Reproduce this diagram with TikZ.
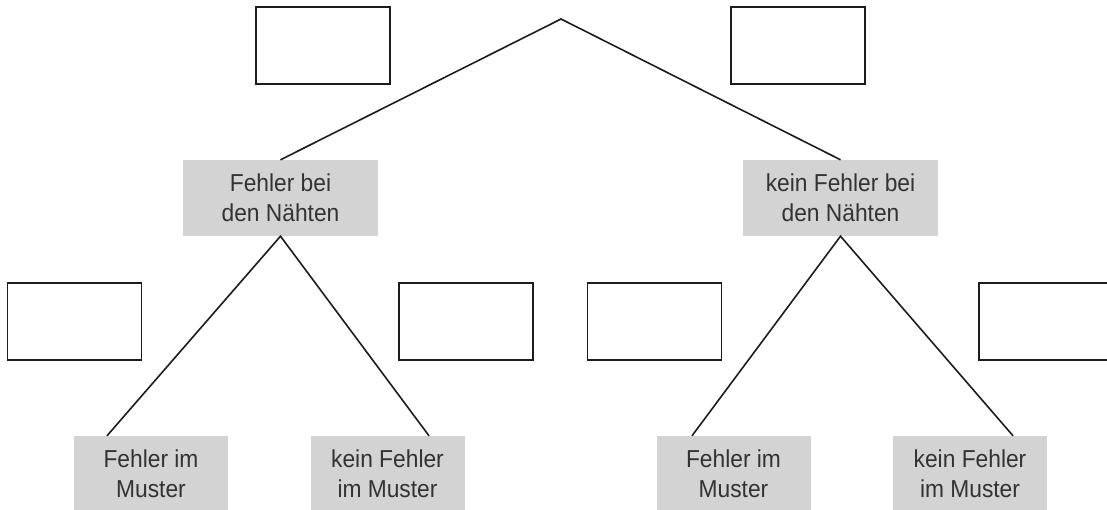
\documentclass[tikz,border=0pt]{standalone}
\usepackage{fontspec}
\setmainfont{Liberation Sans}
\newfontfamily\boxfont[FakeStretch=0.93]{Liberation Sans}
\usetikzlibrary{calc}
\definecolor{boxgrey}{HTML}{D3D3D3}
\definecolor{txtcol}{HTML}{333333}
\definecolor{lncol}{HTML}{1C1C1C}
\begin{document}
\begin{tikzpicture}[x=1pt,y=-1pt,
  emptybox/.style={draw=lncol, line width=1.7pt, minimum width=134pt, minimum height=77pt, inner sep=0pt, fill=white},
  greybox/.style={fill=boxgrey, text=txtcol, align=center, inner sep=0pt, font=\boxfont\fontsize{24.5}{30}\selectfont},
  midbox/.style={greybox, minimum width=195pt, minimum height=76pt},
  leafbox/.style={greybox, minimum width=154pt, minimum height=76pt},
  conn/.style={draw=lncol, line width=1.6pt}]
\useasboundingbox (0,0) rectangle (1107,510);
\clip (0,0) rectangle (1107,510);
% top empty boxes
\node[emptybox] (t1) at (323,45.5) {};
\node[emptybox] (t2) at (798,45.5) {};
% middle grey boxes
\node[midbox] (m1) at (280.5,198) {Fehler bei\\den Nähten};
\node[midbox] (m2) at (840.5,198) {kein Fehler bei\\den Nähten};
% second-row empty boxes
\node[emptybox] (e1) at (74.5,321.5) {};
\node[emptybox] (e2) at (466,321.5) {};
\node[emptybox] (e3) at (654.5,321.5) {};
\node[emptybox] (e4) at (1046,321.5) {};
% leaf boxes
\node[leafbox] (b1) at (151,474) {Fehler im\\Muster};
\node[leafbox] (b2) at (387.5,474) {kein Fehler\\im Muster};
\node[leafbox] (b3) at (733.5,474) {Fehler im\\Muster};
\node[leafbox] (b4) at (970,474) {kein Fehler\\im Muster};
% connectors
\coordinate (apex) at (561,19);
\draw[conn] (m1.north) -- (apex) -- (m2.north);
\draw[conn] ([xshift=-44pt]b1.north) -- (m1.south) -- ([xshift=41.5pt]b2.north);
\draw[conn] ([xshift=-41.5pt]b3.north) -- (m2.south) -- ([xshift=43pt]b4.north);
\end{tikzpicture}
\end{document}
